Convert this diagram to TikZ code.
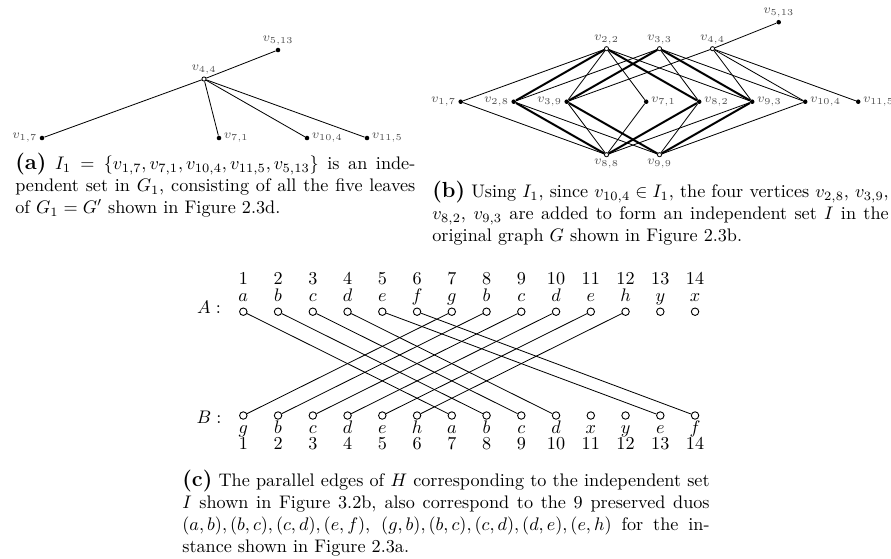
\documentclass[tikz,border=0pt]{standalone}
\usepackage{amsmath,amssymb}
\usepackage{xcolor}
\usepackage{tikz}
\usetikzlibrary{positioning}
\definecolor{gris}{RGB}{80,80,80}

\begin{document}
\begin{tikzpicture}[x=0.55pt, y=-0.55pt, font=\fontsize{6.6}{8}\selectfont,
  plein/.style={circle, fill=black, inner sep=0pt, minimum size=2.5pt},
  creux/.style={circle, draw=black, fill=white, inner sep=0pt, minimum size=2.3pt, line width=0.45pt},
  etiq/.style={text=gris, inner sep=1pt},
  fin/.style={line width=0.45pt},
  gras/.style={line width=1.1pt},
  rond/.style={circle, draw, inner sep=0pt, minimum size=4.1pt, line width=0.5pt},
  legende/.style={anchor=north west, inner sep=0pt, font=\normalsize, align=justify}]
\useasboundingbox (0,0) rectangle (891,558);

% (a) le graphe G1
\node[creux, label={[etiq, name=ea44]above:$v_{4,4}$}] (a44) at (204,79) {};
\node[plein, label={[etiq, name=ea513]above:$v_{5,13}$}] (a513) at (278,50) {};
\node[plein, label={[etiq, name=ea17]left:$v_{1,7}$}] (a17) at (42,138) {};
\foreach \n/\x/\ij in {71/219/{7,1}, 104/307/{10,4}, 115/367/{11,5}}
  \node[plein, label={[etiq, name=ea\n]right:$v_{\ij}$}] (a\n) at (\x,138) {};
\foreach \t in {17,71,104,115,513}
  \draw[fin] (a44) -- (a\t);

% (b) le graphe G
\foreach \n/\x/\ij in {17/460.7/{1,7}, 28/513.7/{2,8}, 39/566.7/{3,9}}
  \node[plein, label={[etiq, name=eb\n]left:$v_{\ij}$}] (b\n) at (\x,101.7) {};
\foreach \n/\x/\ij in {71/646.2/{7,1}, 82/699.2/{8,2}, 93/752.2/{9,3}, 104/805.2/{10,4}, 115/858.2/{11,5}}
  \node[plein, label={[etiq, name=eb\n]right:$v_{\ij}$}] (b\n) at (\x,101.7) {};
\foreach \n/\x/\ij in {22/606.5/{2,2}, 33/659.5/{3,3}, 44/712.5/{4,4}}
  \node[creux, label={[etiq, name=eb\n]above:$v_{\ij}$}] (b\n) at (\x,48.7) {};
\foreach \n/\x/\ij in {88/606.5/{8,8}, 99/659.5/{9,9}}
  \node[creux, label={[etiq, name=eb\n]below:$v_{\ij}$}] (b\n) at (\x,154.7) {};
\node[plein, label={[etiq, name=eb513]above:$v_{5,13}$}] (b513) at (778.7,22.2) {};
\foreach \s/\t in {17/22, 17/88, 71/22, 71/88, 28/33, 28/99, 39/22, 39/88,
                   82/33, 82/99, 93/22, 93/88, 104/33, 104/99, 104/44,
                   39/44, 93/44, 115/44, 513/44}
  \draw[fin] (b\s) -- (b\t);
\foreach \s/\t in {28/22, 28/88, 39/33, 39/99, 82/22, 82/88, 93/33, 93/99}
  \draw[gras] (b\s) -- (b\t);

% (c) les aretes paralleles de H
\node[font=\normalsize] (nA) at (209,307) {$A:$};
\node[font=\normalsize] (nB) at (209,417) {$B:$};
\foreach \u/\w [count=\k] in {a/g, b/b, c/c, d/d, e/e, f/h, g/a, b/b, c/c, d/d, e/x, h/y, y/e, x/f}{
  \node[rond] (ca\k) at ({243.3+(\k-1)*34.75},311.7) {};
  \node[rond] (cb\k) at ({243.3+(\k-1)*34.75},415.5) {};
  \node[font=\normalsize, anchor=base, inner sep=0pt] (ta\k) at ({243.3+(\k-1)*34.75},301) {$\u$};
  \node[font=\normalsize, anchor=base, inner sep=0pt] (na\k) at ({243.3+(\k-1)*34.75},284) {\k};
  \node[font=\normalsize, anchor=base, inner sep=0pt] (tb\k) at ({243.3+(\k-1)*34.75},433) {$\w$};
  \node[font=\normalsize, anchor=base, inner sep=0pt] (nb\k) at ({243.3+(\k-1)*34.75},449) {\k};
}
\foreach \s/\t in {1/7, 2/8, 3/9, 4/10, 5/13, 6/14, 7/1, 8/2, 9/3, 10/4, 11/5, 12/6}
  \draw[fin] (ca\s) -- (cb\t);

% legendes
\node[legende, text width=220pt] (capa) at (15,153) {\textbf{\large (a)} $I_1=\{v_{1,7},v_{7,1},v_{10,4},v_{11,5},v_{5,13}\}$ is an inde-\linebreak pendent set in $G_1$, consisting of all the five leaves\linebreak of $G_1=G'$ shown in Figure~2.3d.};
\node[legende, text width=251pt] (capb) at (432,181) {\textbf{\large (b)} Using $I_1$, since $v_{10,4}\in I_1$, the four vertices $v_{2,8}$, $v_{3,9}$,\linebreak $v_{8,2}$, $v_{9,3}$ are added to form an independent set $I$ in the\linebreak original graph $G$ shown in Figure~2.3b.};
\node[legende, text width=290pt] (capc) at (182,470) {\textbf{\large (c)} The parallel edges of $H$ corresponding to the independent set\linebreak $I$ shown in Figure~3.2b, also correspond to the 9 preserved duos\linebreak $(a,b),(b,c),(c,d),(e,f)$, $(g,b),(b,c),(c,d),(d,e),(e,h)$ for the in-\linebreak stance shown in Figure~2.3a.};
\end{tikzpicture}
\end{document}
